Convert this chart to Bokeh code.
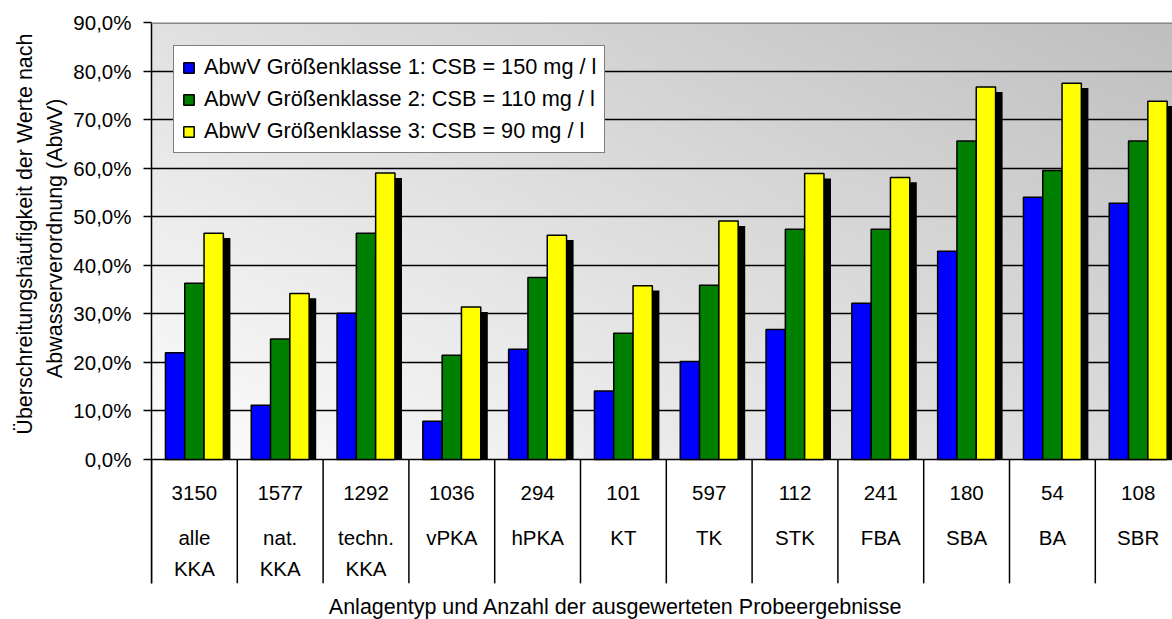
import numpy as np
from bokeh.plotting import figure
from bokeh.models import Range1d, FixedTicker, Span, Title
from bokeh.core.properties import value
from bokeh.embed import file_html
from bokeh.resources import INLINE

# ---- data -------------------------------------------------------------
counts = ["3150", "1577", "1292", "1036", "294", "101", "597", "112", "241", "180", "54", "108"]
type_line1 = ["alle", "nat.", "techn.", "vPKA", "hPKA", "KT", "TK", "STK", "FBA", "SBA", "BA", "SBR"]
type_line2 = ["KKA", "KKA", "KKA", "", "", "", "", "", "", "", "", ""]

gk1 = [22.0, 11.2, 30.1, 7.9, 22.7, 14.1, 20.2, 26.8, 32.2, 42.9, 54.0, 52.8]
gk2 = [36.3, 24.8, 46.6, 21.5, 37.5, 26.0, 35.9, 47.4, 47.4, 65.6, 59.5, 65.6]
gk3 = [46.6, 34.2, 59.0, 31.4, 46.2, 35.8, 49.1, 58.9, 58.1, 76.7, 77.5, 73.8]

series_labels = [
    "AbwV Größenklasse 1: CSB = 150 mg / l",
    "AbwV Größenklasse 2: CSB = 110 mg / l",
    "AbwV Größenklasse 3: CSB = 90 mg / l",
]
series_colors = ["#0000ff", "#008000", "#ffff00"]

y_ticks = [0, 10, 20, 30, 40, 50, 60, 70, 80, 90]
y_tick_labels = ["0,0%", "10,0%", "20,0%", "30,0%", "40,0%", "50,0%",
                 "60,0%", "70,0%", "80,0%", "90,0%"]
y_title = ["Überschreitungshäufigkeit der Werte nach", "Abwasserverordnung (AbwV)"]
x_title = "Anlagentyp und Anzahl der ausgewerteten Probeergebnisse"

# ---- layout -----------------------------------------------------------
FONT = "Liberation Sans"
W, H = 1172, 619
LEFT, TOP = 151, 22
PX_PER_GROUP = 85.8
PX_PER_UNIT = 4.856
y_top = 90
x_end = (W - LEFT) / PX_PER_GROUP
y_start = y_top - (H - TOP) / PX_PER_UNIT

count_row = -6.8
name_row1 = -16.0
name_row2 = -22.4
table_bottom = -25.5
x_title_pos = (5.41, -30.4)

n = len(counts)
centers = np.arange(n) + 0.5
bounds = np.arange(n + 1)
offsets = [-0.225, 0.0, 0.225]
bar_w = 0.225
shadow_dx, shadow_dy = 0.082, 1.0

p = figure(width=W, height=H, output_backend="svg", toolbar_location=None,
           x_range=Range1d(0, x_end), y_range=Range1d(y_start, y_top),
           min_border_left=LEFT, min_border_right=0, min_border_top=TOP,
           min_border_bottom=0, x_axis_location=None,
           background_fill_color="white", border_fill_color="white")
p.outline_line_color = None

# diagonal grey gradient behind the bars
nx, ny = 240, 120
u = np.linspace(0, 1, nx)[None, :]
v = np.linspace(0, 1, ny)[:, None]
shade = (253 - 62 * (0.55 * u + 0.45 * v)).astype(np.uint8)
img = np.empty((ny, nx), dtype=np.uint32)
rgba = img.view(dtype=np.uint8).reshape((ny, nx, 4))
rgba[..., 0] = shade
rgba[..., 1] = shade
rgba[..., 2] = shade
rgba[..., 3] = 255
bg = p.image_rgba(image=[img], x=0, y=0, dw=12, dh=y_top)
bg.level = "image"

# horizontal grid
p.xgrid.visible = False
p.ygrid.ticker = FixedTicker(ticks=y_ticks[:-1])
p.ygrid.grid_line_color = "black"
p.ygrid.grid_line_width = 1.5
p.add_layout(Span(location=y_top, dimension="width", line_color="#8a8a8a", line_width=3))

# bar shadows, then bars
series = [gk1, gk2, gk3]
for vals, off in zip(series, offsets):
    p.vbar(x=centers + off + shadow_dx, top=np.array(vals) - shadow_dy, bottom=0,
           width=bar_w, fill_color="black", line_color=None)
for vals, off, col, lab in zip(series, offsets, series_colors, series_labels):
    p.vbar(x=centers + off, top=vals, bottom=0, width=bar_w, fill_color=col,
           line_color="black", line_width=1.5, legend_label=lab)

# category table under the bars
p.segment(x0=bounds, y0=0, x1=bounds, y1=table_bottom, line_color="black", line_width=1.5)
for row_y, texts in [(count_row, counts), (name_row1, type_line1), (name_row2, type_line2)]:
    p.text(x=centers, y=row_y, text=texts, text_align="center", text_baseline="middle",
           text_font=value(FONT), text_font_size="20.5px", text_color="black")
p.text(x=[x_title_pos[0]], y=[x_title_pos[1]], text=[x_title], text_align="center",
       text_baseline="middle", text_font=value(FONT), text_font_size="21.5px",
       text_color="black")

# y axis
yax = p.yaxis[0]
yax.ticker = FixedTicker(ticks=y_ticks)
yax.major_label_overrides = dict(zip(y_ticks, y_tick_labels))
yax.bounds = (table_bottom, y_top)
yax.axis_line_color = "black"
yax.axis_line_width = 1.5
yax.major_tick_out = 8
yax.major_tick_in = 0
yax.major_tick_line_width = 1.5
yax.minor_tick_line_color = None
yax.major_label_text_font = FONT
yax.major_label_text_font_size = "20.5px"
yax.major_label_text_color = "black"
yax.major_label_standoff = 12

# two-line y title: inner line first, outer line second
for text, off, gap in [(y_title[1], 76, 8), (y_title[0], 11, 0)]:
    p.add_layout(Title(text=text, align="right", offset=off, standoff=gap,
                       text_font=FONT, text_font_size="21.5px",
                       text_font_style="normal", text_color="black"), "left")

# legend
leg = p.legend[0]
leg.location = (22, 466)
leg.background_fill_color = "white"
leg.background_fill_alpha = 1
leg.border_line_color = "black"
leg.border_line_width = 1.5
leg.label_text_font = FONT
leg.label_text_font_size = "21.7px"
leg.label_text_color = "black"
leg.glyph_width = 13
leg.glyph_height = 13
leg.label_standoff = 9
leg.label_height = 24
leg.spacing = 6
leg.padding = 8
leg.margin = 0

open("out.html", "w").write(file_html(p, INLINE))
